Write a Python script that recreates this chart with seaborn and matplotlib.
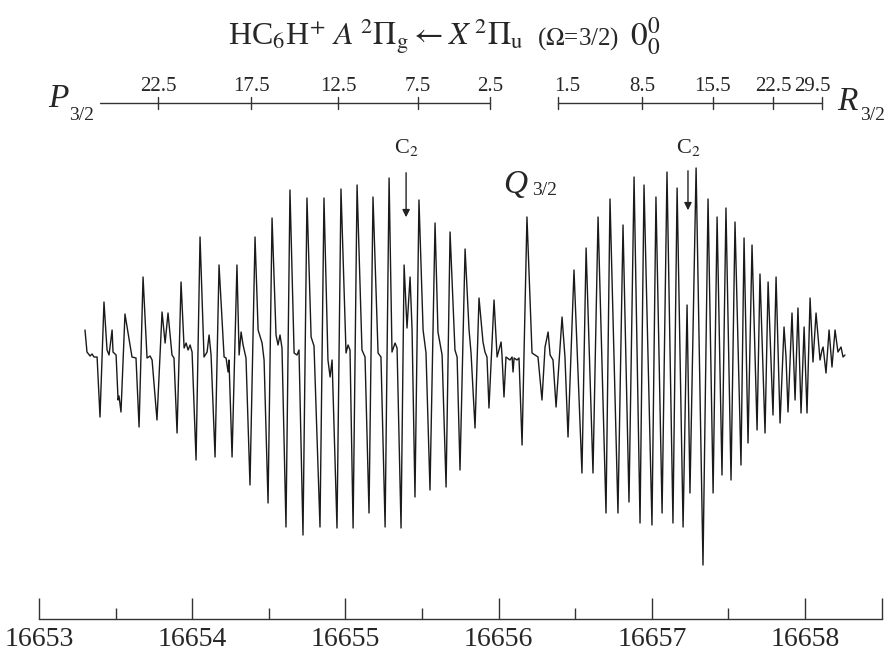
import numpy as np
import pandas as pd
import matplotlib
matplotlib.use('Agg')
import matplotlib.pyplot as plt
import seaborn as sns

# HC6H+ A-X 0-0 band, trace
# wavenumber offsets from 16653 cm-1 and signal (arb. units, baseline = 0)
base_wn = 16653
wn_offset = [
    0.300, 0.313, 0.333, 0.346, 0.359, 0.379, 0.398, 0.424, 0.444, 0.457,
    0.477, 0.483, 0.503, 0.516, 0.522, 0.535, 0.561, 0.581, 0.594, 0.607,
    0.633, 0.653, 0.679, 0.705, 0.725, 0.738, 0.770, 0.803, 0.823, 0.842,
    0.868, 0.881, 0.901, 0.927, 0.947, 0.960, 0.973, 0.986, 0.999, 1.025,
    1.051, 1.077, 1.097, 1.110, 1.123, 1.149, 1.175, 1.208, 1.221, 1.234,
    1.240, 1.260, 1.292, 1.306, 1.319, 1.332, 1.351, 1.377, 1.410, 1.430,
    1.456, 1.469, 1.495, 1.521, 1.547, 1.560, 1.573, 1.586, 1.612, 1.638,
    1.665, 1.684, 1.697, 1.723, 1.749, 1.776, 1.795, 1.834, 1.860, 1.886,
    1.900, 1.913, 1.945, 1.971, 2.004, 2.017, 2.030, 2.050, 2.076, 2.108,
    2.128, 2.154, 2.180, 2.213, 2.232, 2.259, 2.285, 2.304, 2.324, 2.337,
    2.363, 2.383, 2.402, 2.422, 2.435, 2.454, 2.480, 2.507, 2.526, 2.552,
    2.585, 2.604, 2.631, 2.657, 2.683, 2.715, 2.729, 2.748, 2.781, 2.807,
    2.820, 2.846, 2.872, 2.898, 2.911, 2.924, 2.937, 2.970, 2.990, 3.016,
    3.022, 3.035, 3.048, 3.074, 3.088, 3.094, 3.101, 3.120, 3.133, 3.153,
    3.185, 3.218, 3.257, 3.283, 3.303, 3.323, 3.336, 3.355, 3.375, 3.414,
    3.433, 3.453, 3.492, 3.544, 3.571, 3.616, 3.649, 3.701, 3.727, 3.779,
    3.812, 3.851, 3.884, 3.923, 3.949, 4.001, 4.027, 4.067, 4.099, 4.138,
    4.165, 4.204, 4.230, 4.249, 4.289, 4.334, 4.367, 4.400, 4.426, 4.458,
    4.484, 4.517, 4.543, 4.582, 4.602, 4.628, 4.654, 4.687, 4.706, 4.739,
    4.759, 4.791, 4.811, 4.837, 4.863, 4.876, 4.889, 4.915, 4.935, 4.954,
    4.974, 4.994, 5.013, 5.033, 5.052, 5.072, 5.098, 5.111, 5.118, 5.137,
    5.157, 5.176, 5.196, 5.215, 5.235, 5.248, 5.261,
]
signal = [
    25, 3, -1, 1, -2, -2, -62, 53, 5, 0,
    25, 3, 0, -45, -41, -57, 41, 22, 10, -2,
    -3, -72, 78, -3, -1, -5, -65, 43, 12, 42,
    0, -3, -78, 73, 7, 12, 5, 10, 3, -105,
    118, -2, 3, 20, 0, -102, 90, -2, -3, -17,
    -5, -102, 90, 0, 23, 10, -3, -130, 118, 25,
    12, -5, -148, 137, 20, 10, 20, 7, -172, 165,
    2, 0, 5, -180, 157, 18, 9, -172, 157, -5,
    -22, -5, -173, 166, 2, 10, 5, -173, 170, 5,
    -2, -158, 158, 2, -2, -172, 177, 3, 12, 7,
    -173, 90, 27, 78, 25, -142, 155, 25, 2, -135,
    132, 23, 0, -132, 123, 5, -2, -115, 106, 25,
    2, -73, 57, 13, 3, -2, -53, 55, -2, 13,
    0, -42, -2, -5, -2, -17, -3, -5, -3, -90,
    138, 2, -2, -45, 8, 23, 0, -5, -52, 38,
    -2, -82, 85, -118, 107, -118, 138, -158, 156, -158,
    130, -147, 178, -168, 170, -170, 158, -158, 183, -168,
    167, -172, 50, -138, 187, -210, 156, -138, 138, -120,
    147, -125, 133, -110, 117, -88, 110, -75, 81, -78,
    73, -60, 78, -68, 28, -2, -57, 42, -45, 47,
    -58, 28, -58, 57, -7, 42, -5, 5, 8, -18,
    25, -12, 25, 3, 8, -2, 0,
]

# rotational combs (J labels and their wavenumbers)
p_labels = ['22.5', '17.5', '12.5', '7.5', '2.5']
p_pos = [16653.777, 16654.384, 16654.952, 16655.474, 16655.944]
p_start = 16653.398
r_labels = ['1.5', '8.5', '15.5', '22.5', '29.5']
r_pos = [16656.388, 16656.936, 16657.399, 16657.791, 16658.111]
c2_pos = [16655.396, 16657.236]

major_ticks = [16653, 16654, 16655, 16656, 16657, 16658, 16658.5]
major_labels = ['16653', '16654', '16655', '16656', '16657', '16658', '']
minor_ticks = [16653.5, 16654.5, 16655.5, 16656.5, 16657.5]

df = pd.DataFrame({'wavenumber': base_wn + np.array(wn_offset), 'signal': signal})

sns.set_style('white')
plt.rcParams['font.family'] = ['Liberation Serif', 'DejaVu Serif']
plt.rcParams['mathtext.fontset'] = 'stix'

fig = plt.figure(figsize=(8.89, 6.54), dpi=100)
ax = fig.add_axes([0.0439, 0.0535, 0.9478, 0.9465])
sns.lineplot(data=df, x='wavenumber', y='signal', sort=False, estimator=None,
             color='#1a1a1a', linewidth=1.0, ax=ax)
ax.set_xlim(16653, 16658.5)
ax.set_ylim(-264, 355)

for s in ['left', 'top', 'right']:
    ax.spines[s].set_visible(False)
ax.spines['bottom'].set_color('#333333')
ax.spines['bottom'].set_linewidth(1.0)
ax.set_yticks([])
ax.set_xticks(major_ticks)
ax.set_xticklabels(major_labels)
ax.set_xticks(minor_ticks, minor=True)
ax.tick_params(axis='x', which='both', bottom=True, direction='in', width=1, color='#333333')
ax.tick_params(axis='x', which='major', length=15, labelsize=20, pad=6)
ax.tick_params(axis='x', which='minor', length=8)
ax.set_xlabel('')
ax.set_ylabel('')

# P branch comb
ax.plot([p_start, p_pos[-1]], [252, 252], color='#333333', lw=1)
for pos, lab in zip(p_pos, p_labels):
    ax.plot([pos, pos], [246, 258], color='#333333', lw=1)
    ax.text(pos, 264, lab, ha='center', va='baseline', fontsize=15)

# R branch comb
ax.plot([r_pos[0], r_pos[-1]], [252, 252], color='#333333', lw=1)
for i, (pos, lab) in enumerate(zip(r_pos, r_labels)):
    ax.plot([pos, pos], [246, 258], color='#333333', lw=1)
    shift = 0.06 if i == 0 else (-0.06 if i == len(r_pos) - 1 else 0)
    ax.text(pos + shift, 264, lab, ha='center', va='baseline', fontsize=15)

# branch labels: italic letter plus a lowered 3/2
ax.text(16653.059, 248, 'P', style='italic', ha='left', va='baseline', fontsize=24)
ax.text(16653.196, 235, '3/2', ha='left', va='baseline', fontsize=14)
ax.text(16656.028, 162, 'Q', style='italic', ha='left', va='baseline', fontsize=24)
ax.text(16656.218, 160, '3/2', ha='left', va='baseline', fontsize=14)
ax.text(16658.209, 245, 'R', style='italic', ha='left', va='baseline', fontsize=24, clip_on=False)
ax.text(16658.359, 235, '3/2', ha='left', va='baseline', fontsize=14, clip_on=False)

# C2 contaminant lines
for pos, top, tip in zip(c2_pos, [185, 187], [135, 142]):
    ax.text(pos, 202, r'C$_2$', ha='center', va='baseline', fontsize=16)
    ax.annotate('', xy=(pos, tip), xytext=(pos, top),
                arrowprops=dict(arrowstyle='-|>', color='#222222', lw=1, mutation_scale=11))

# title in three pieces, the middle one smaller
fig.text(228 / 889, 1 - 45 / 654,
         r'HC$_6$H$^{+}$ $A\;^{2}\Pi_{\mathrm{g}}\leftarrow X\;^{2}\Pi_{\mathrm{u}}$',
         ha='left', va='baseline', fontsize=23)
fig.text(537 / 889, 1 - 45 / 654, r'($\Omega$=3/2)', ha='left', va='baseline', fontsize=18)
fig.text(630 / 889, 1 - 45 / 654, r'$0^0_0$', ha='left', va='baseline', fontsize=24)

fig.savefig('out.png', dpi=100)
